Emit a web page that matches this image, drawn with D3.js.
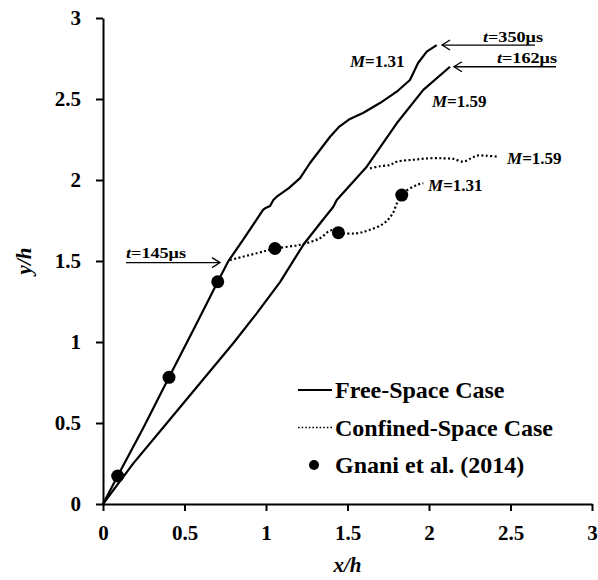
<!DOCTYPE html>
<html>
<head>
<meta charset="utf-8">
<script src="https://cdnjs.cloudflare.com/ajax/libs/d3/7.8.5/d3.min.js"></script>
<style>
  body { margin: 0; background: #fff; }
  svg text { font-family: "Liberation Serif", "Times New Roman", serif; font-weight: bold; fill: #000; }
</style>
</head>
<body>
<div id="chart"></div>
<script>
// free-space trajectories (x/h, y/h)
var freeM131 = [[0,0],[0.09,0.173],[0.25,0.475],[0.405,0.782],[0.554,1.074],[0.704,1.372],
  [0.767,1.496],[0.859,1.63],[0.982,1.815],[0.994,1.825],[1.025,1.84],[1.045,1.877],[1.066,1.897],
  [1.14,1.95],[1.209,2.012],[1.27,2.105],[1.331,2.185],[1.393,2.267],[1.45,2.33],[1.515,2.377],
  [1.595,2.414],[1.699,2.475],[1.802,2.545],[1.883,2.617],[1.933,2.722],[1.986,2.792],[2.047,2.833]];
var freeM159 = [[0,0],[0.186,0.251],[0.391,0.498],[0.595,0.745],[0.799,0.992],[0.943,1.177],
  [1.086,1.37],[1.229,1.6],[1.33,1.73],[1.413,1.835],[1.434,1.877],[1.618,2.082],[1.802,2.35],
  [1.965,2.556],[2.129,2.699]];

// confined-space trajectories
var confM131 = [[0.779,1.506],[0.943,1.548],[1.055,1.577],[1.209,1.6],[1.33,1.64],[1.40,1.69],
  [1.444,1.675],[1.556,1.671],[1.63,1.69],[1.72,1.73],[1.775,1.79],[1.805,1.86],[1.833,1.912],
  [1.925,1.969],[1.965,1.98]];
var confM159 = [[1.638,2.072],[1.70,2.085],[1.761,2.093],[1.802,2.113],[1.904,2.125],[2.0,2.134],
  [2.088,2.134],[2.15,2.13],[2.21,2.113],[2.26,2.135],[2.293,2.15],[2.35,2.15],[2.415,2.144]];

// Gnani et al. (2014)
var gnani = [[0.09,0.173],[0.405,0.782],[0.704,1.372],[1.055,1.577],[1.444,1.675],[1.833,1.907]];

var xTicks = [0, 0.5, 1, 1.5, 2, 2.5, 3];
var yTicks = [0, 0.5, 1, 1.5, 2, 2.5, 3];

// Mach labels: [value, x, y baseline]
var machLabels = [["1.31", 1.515, 2.698], ["1.59", 2.018, 2.451], ["1.59", 2.479, 2.099], ["1.31", 1.994, 1.934]];
// time labels: [text, text x, text y, arrow tail x, arrow head x, arrow y]
var timeLabels = [["350", 2.331, 2.852, 2.65, 2.08, 2.833],
                  ["162", 2.417, 2.722, 2.779, 2.153, 2.699],
                  ["145", 0.141, 1.519, 0.141, 0.718, 1.49]];

var legendNames = ["Free-Space Case", "Confined-Space Case", "Gnani et al. (2014)"];

var width = 598, height = 580;

var svg = d3.select("#chart").append("svg")
  .attr("width", width)
  .attr("height", height);

var xScale = d3.scaleLinear().domain([0, 3]).range([103, 592]);
var yScale = d3.scaleLinear().domain([0, 3]).range([504, 18]);

// axes
var xAxis = svg.append("g")
  .attr("transform", "translate(0," + yScale(0) + ")")
  .call(d3.axisBottom(xScale).tickValues(xTicks).tickFormat(String)
    .tickSize(7).tickSizeOuter(0).tickPadding(14));
var yAxis = svg.append("g")
  .attr("transform", "translate(" + xScale(0) + ",0)")
  .call(d3.axisLeft(yScale).tickValues(yTicks).tickFormat(String)
    .tickSize(7).tickSizeOuter(0).tickPadding(15));

[xAxis, yAxis].forEach(function(a){
  a.select(".domain").attr("stroke", "#000").attr("stroke-width", 2);
  a.selectAll(".tick line").attr("stroke", "#000").attr("stroke-width", 2);
  a.selectAll("text")
    .style("font-family", "Liberation Serif")
    .style("font-weight", "bold")
    .style("font-size", "21px");
});

// axis titles
svg.append("text")
  .attr("x", (xScale(0) + xScale(3)) / 2)
  .attr("y", 572)
  .attr("text-anchor", "middle")
  .style("font-size", "21px")
  .style("font-style", "italic")
  .text("x/h");
svg.append("text")
  .attr("transform", "translate(31," + yScale(1.5) + ") rotate(-90)")
  .attr("text-anchor", "middle")
  .style("font-size", "21px")
  .style("font-style", "italic")
  .text("y/h");

var line = d3.line()
  .x(function(d){ return xScale(d[0]); })
  .y(function(d){ return yScale(d[1]); });
var smooth = d3.line()
  .curve(d3.curveCatmullRom)
  .x(function(d){ return xScale(d[0]); })
  .y(function(d){ return yScale(d[1]); });

[freeM131, freeM159].forEach(function(s){
  svg.append("path")
    .attr("d", line(s))
    .attr("fill", "none")
    .attr("stroke", "#000")
    .attr("stroke-width", 2.2)
    .attr("stroke-linejoin", "round");
});

[confM131, confM159].forEach(function(s){
  svg.append("path")
    .attr("d", smooth(s))
    .attr("fill", "none")
    .attr("stroke", "#000")
    .attr("stroke-width", 2.2)
    .attr("stroke-dasharray", "2,2.4");
});

svg.selectAll("circle.gnani")
  .data(gnani)
  .enter().append("circle")
  .attr("class", "gnani")
  .attr("cx", function(d){ return xScale(d[0]); })
  .attr("cy", function(d){ return yScale(d[1]); })
  .attr("r", 6.5)
  .attr("fill", "#000");

// Mach number labels
machLabels.forEach(function(m){
  var t = svg.append("text")
    .attr("x", xScale(m[1]))
    .attr("y", yScale(m[2]))
    .style("font-size", "17px");
  t.append("tspan").style("font-style", "italic").text("M");
  t.append("tspan").text("=" + m[0]);
});

// time labels with arrows
timeLabels.forEach(function(t){
  var txt = svg.append("text")
    .attr("x", xScale(t[1]))
    .attr("y", yScale(t[2]))
    .attr("textLength", 60)
    .attr("lengthAdjust", "spacingAndGlyphs")
    .style("font-size", "15px");
  txt.append("tspan").style("font-style", "italic").text("t");
  txt.append("tspan").text("=" + t[0] + "μs");

  var x1 = xScale(t[3]), x2 = xScale(t[4]), y = yScale(t[5]);
  var dir = x2 > x1 ? -1 : 1;
  svg.append("line")
    .attr("x1", x1).attr("x2", x2)
    .attr("y1", y).attr("y2", y)
    .attr("stroke", "#000").attr("stroke-width", 1.3);
  svg.append("path")
    .attr("d", "M" + (x2 + dir * 8) + "," + (y - 5) + "L" + x2 + "," + y + "L" + (x2 + dir * 8) + "," + (y + 5))
    .attr("fill", "none")
    .attr("stroke", "#000")
    .attr("stroke-width", 1.3);
});

// legend
var legend = svg.append("g");
legendNames.forEach(function(name, i){
  var yy = 398 + i * 37.5;
  if (i === 0) {
    legend.append("line").attr("x1", 298).attr("x2", 332).attr("y1", yy - 8).attr("y2", yy - 8)
      .attr("stroke", "#000").attr("stroke-width", 2.2);
  } else if (i === 1) {
    legend.append("line").attr("x1", 298).attr("x2", 332).attr("y1", yy - 8).attr("y2", yy - 8)
      .attr("stroke", "#000").attr("stroke-width", 1.6).attr("stroke-dasharray", "1.6,2");
  } else {
    legend.append("circle").attr("cx", 314).attr("cy", yy - 8).attr("r", 5).attr("fill", "#000");
  }
  legend.append("text")
    .attr("x", 335)
    .attr("y", yy)
    .style("font-size", "24px")
    .text(name);
});
</script>
</body>
</html>
